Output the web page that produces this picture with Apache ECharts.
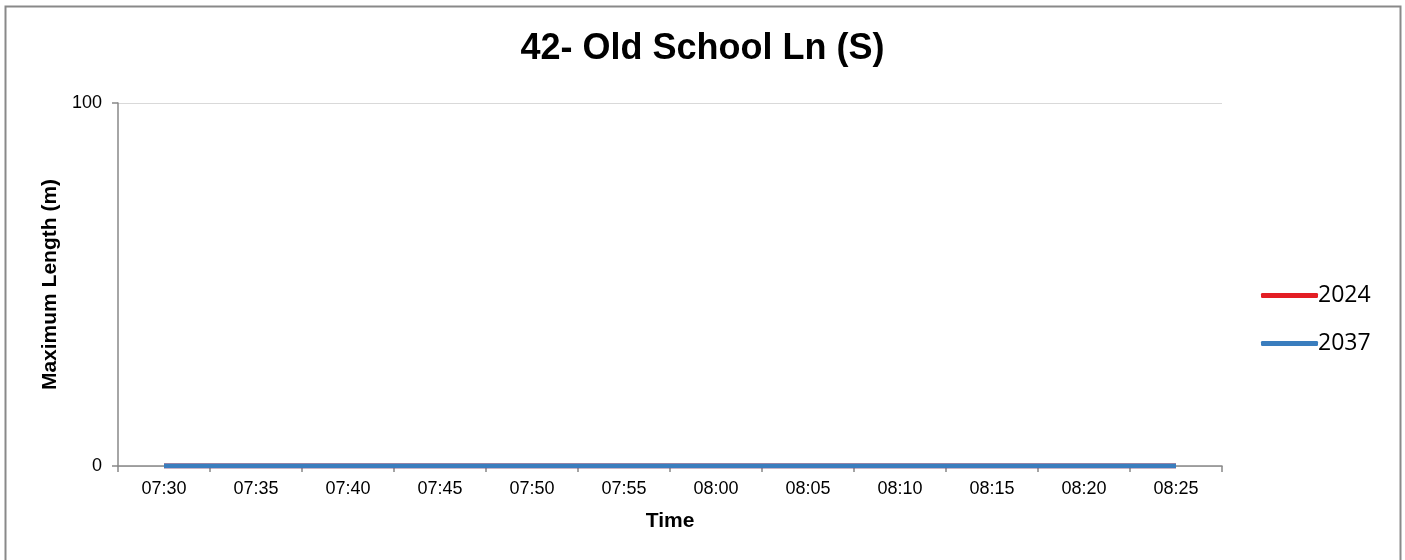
<!DOCTYPE html>
<html>
<head>
<meta charset="utf-8">
<script src="https://cdn.jsdelivr.net/npm/echarts@6/dist/echarts.min.js"></script>
<style>
html,body{margin:0;padding:0;background:#fff;}
#chart{width:1405px;height:560px;}
</style>
</head>
<body>
<div id="chart"></div>
<script>
const categories = ['07:30','07:35','07:40','07:45','07:50','07:55','08:00','08:05','08:10','08:15','08:20','08:25'];
const series2024 = [0,0,0,0,0,0,0,0,0,0,0,0];
const series2037 = [0,0,0,0,0,0,0,0,0,0,0,0];
const seriesNames = ['2024','2037'];
const yTicks = {min:0, max:100, interval:100};

const chart = echarts.init(document.getElementById('chart'));
chart.setOption({
  animation:false,
  backgroundColor:'#fff',
  graphic:[{
    type:'rect', left:3, top:4, shape:{width:1395, height:570},
    style:{fill:'none', stroke:'#898989', lineWidth:2}, silent:true
  }],
  title:{
    text:'42- Old School Ln (S)', left:'center', top:26,
    textStyle:{fontFamily:'Liberation Sans, Arial', fontSize:36, fontWeight:'bold', color:'#000'}
  },
  legend:{
    orient:'vertical', left:1256, top:279, itemGap:25,
    itemWidth:57, itemHeight:5, icon:'roundRect',
    textStyle:{fontFamily:'Open Sans, Noto Sans', fontSize:23, color:'#000', padding:[0,0,0,-5]},
    data:seriesNames
  },
  grid:{left:118, right:183, top:103, bottom:94},
  xAxis:{
    type:'category', data:categories, boundaryGap:true,
    name:'Time', nameLocation:'middle', nameGap:45,
    nameTextStyle:{fontFamily:'Liberation Sans, Arial', fontSize:21, fontWeight:'bold', color:'#000'},
    axisLine:{lineStyle:{color:'#888', width:1.5}},
    axisTick:{show:true, length:6, lineStyle:{color:'#888', width:1.5}},
    axisLabel:{fontFamily:'Liberation Sans, Arial', fontSize:18, color:'#000', margin:14}
  },
  yAxis:{
    type:'value', min:yTicks.min, max:yTicks.max, interval:yTicks.interval,
    name:'Maximum Length (m)', nameLocation:'middle', nameGap:52,
    nameTextStyle:{fontFamily:'Liberation Sans, Arial', fontSize:21, fontWeight:'bold', color:'#000'},
    axisLine:{show:true, lineStyle:{color:'#888', width:1.5}},
    axisTick:{show:true, length:6, lineStyle:{color:'#888', width:1.5}},
    axisLabel:{fontFamily:'Liberation Sans, Arial', fontSize:18, color:'#000', margin:16},
    splitLine:{show:true, lineStyle:{color:'#d9d9d9', width:1}}
  },
  series:[
    {name:seriesNames[0], type:'line', data:series2024, showSymbol:false, symbol:'none',
     lineStyle:{color:'#e31e24', width:5}, itemStyle:{color:'#e31e24'}},
    {name:seriesNames[1], type:'line', data:series2037, showSymbol:false, symbol:'none',
     lineStyle:{color:'#3a7dbe', width:5}, itemStyle:{color:'#3a7dbe'}}
  ]
});
</script>
</body>
</html>
